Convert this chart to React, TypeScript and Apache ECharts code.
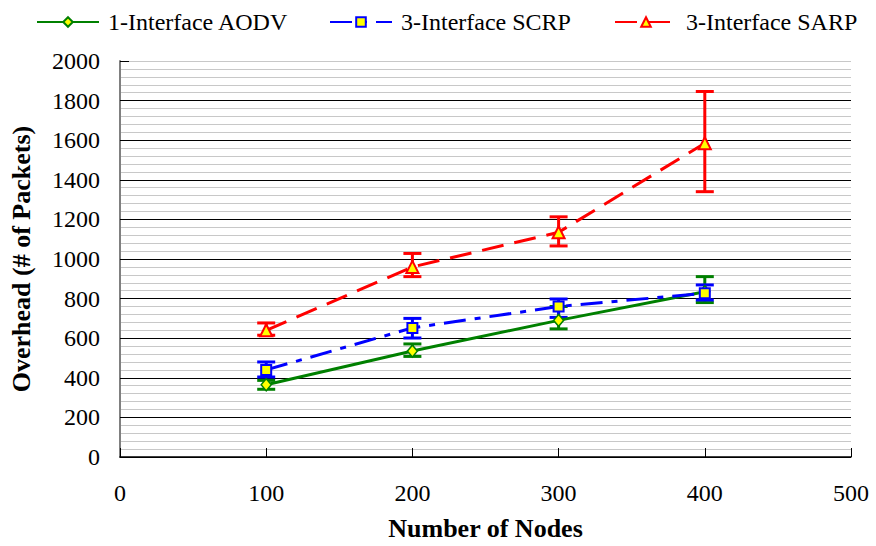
import React, { useEffect, useRef } from "react";
import * as echarts from "echarts";

const nodes = [100, 200, 300, 400];
const aodv = [365, 535, 690, 835];
const aodvLow = [342, 508, 647, 780];
const aodvHigh = [387, 571, 760, 911];
const scrp = [440, 652, 760, 827];
const scrpLow = [404, 601, 705, 793];
const scrpHigh = [480, 700, 798, 869];
const sarp = [640, 960, 1135, 1585];
const sarpLow = [615, 911, 1066, 1340];
const sarpHigh = [677, 1028, 1213, 1846];
const seriesNames = ["1-Interface AODV", "3-Interface SCRP", "3-Interface SARP"];

const FONT = "Liberation Serif";

function errSeries(name: string, low: number[], high: number[], color: string) {
  return {
    type: "custom",
    name: name + "-err",
    z: 1,
    silent: true,
    data: nodes.map((n, i) => [n, low[i], high[i]]),
    renderItem: (params: any, api: any) => {
      const x = api.value(0);
      const lo = api.coord([x, api.value(1)]);
      const hi = api.coord([x, api.value(2)]);
      const w = 9;
      const style = { stroke: color, lineWidth: 3 };
      return {
        type: "group",
        children: [
          { type: "line", shape: { x1: lo[0], y1: lo[1], x2: hi[0], y2: hi[1] }, style },
          { type: "line", shape: { x1: lo[0] - w, y1: lo[1], x2: lo[0] + w, y2: lo[1] }, style },
          { type: "line", shape: { x1: hi[0] - w, y1: hi[1], x2: hi[0] + w, y2: hi[1] }, style },
        ],
      };
    },
    encode: { x: 0, y: [1, 2] },
  };
}

function legendAt(name: string, left: number) {
  return {
    top: 5,
    left,
    itemWidth: 62,
    itemHeight: 12,
    itemGap: 0,
    textStyle: { fontFamily: FONT, fontSize: 24, color: "#000", padding: [0, 0, 0, 4] },
    data: [name],
  };
}

export default function App() {
  const ref = useRef<HTMLDivElement>(null);
  useEffect(() => {
    const chart = echarts.init(ref.current!, null, { renderer: "svg" });
    chart.setOption({
      animation: false,
      backgroundColor: "#ffffff",
      textStyle: { fontFamily: FONT },
      legend: [legendAt(seriesNames[0], 31), legendAt(seriesNames[1], 324), legendAt(seriesNames[2], 609)],
      grid: { left: 120, right: 25, top: 61, bottom: 86 },
      xAxis: {
        type: "value",
        min: 0,
        max: 500,
        interval: 100,
        name: "Number of Nodes",
        nameLocation: "middle",
        nameGap: 58,
        nameTextStyle: { fontFamily: FONT, fontSize: 26, fontWeight: "bold", color: "#000" },
        axisLine: { show: true, lineStyle: { color: "#000", width: 1.5 } },
        axisTick: { show: true, inside: true, length: 9, lineStyle: { color: "#000" } },
        axisLabel: { fontFamily: FONT, fontSize: 24, color: "#000", margin: 24, formatter: (v: number) => String(v) },
        splitLine: { show: false },
      },
      yAxis: {
        type: "value",
        min: 0,
        max: 2000,
        interval: 200,
        name: "Overhead (# of Packets)",
        nameLocation: "middle",
        nameGap: 86,
        nameTextStyle: { fontFamily: FONT, fontSize: 26, fontWeight: "bold", color: "#000" },
        axisLine: { show: true, lineStyle: { color: "#808080", width: 2 } },
        axisTick: { show: true, inside: true, length: 9, lineStyle: { color: "#000" } },
        axisLabel: { fontFamily: FONT, fontSize: 24, color: "#000", margin: 20, formatter: (v: number) => String(v) },
        splitLine: {
          show: true,
          lineStyle: {
            color: ["#000", "#000", "#000", "#000", "#000", "#000", "#000", "#000", "#000", "#000", "#c8c8c8"],
            width: 1,
          },
        },
        minorTick: { show: false, splitNumber: 5 },
        minorSplitLine: { show: true, lineStyle: { color: "#c8c8c8", width: 1 } },
      },
      series: [
        errSeries("aodv", aodvLow, aodvHigh, "#008000"),
        errSeries("scrp", scrpLow, scrpHigh, "#0000ff"),
        errSeries("sarp", sarpLow, sarpHigh, "#ff0000"),
        {
          type: "line",
          name: seriesNames[0],
          z: 3,
          data: nodes.map((n, i) => [n, aodv[i]]),
          symbol: "diamond",
          symbolSize: [10, 12],
          lineStyle: { color: "#008000", width: 3 },
          itemStyle: { color: "#ffff00", borderColor: "#008000", borderWidth: 1.5 },
        },
        {
          type: "line",
          name: seriesNames[1],
          z: 4,
          data: nodes.map((n, i) => [n, scrp[i]]),
          symbol: "rect",
          symbolSize: 10,
          lineStyle: { color: "#0000ff", width: 3, type: [22, 9, 6, 9] },
          itemStyle: { color: "#ffff00", borderColor: "#0000ff", borderWidth: 2 },
        },
        {
          type: "line",
          name: seriesNames[2],
          z: 5,
          data: nodes.map((n, i) => [n, sarp[i]]),
          symbol: "triangle",
          symbolSize: 12,
          lineStyle: { color: "#ff0000", width: 3, type: [22, 11] },
          itemStyle: { color: "#ffff00", borderColor: "#ff0000", borderWidth: 2 },
        },
      ],
    });
    return () => chart.dispose();
  }, []);
  return <div ref={ref} style={{ width: 876, height: 546, position: "absolute", left: 0, top: 0 }} />;
}
